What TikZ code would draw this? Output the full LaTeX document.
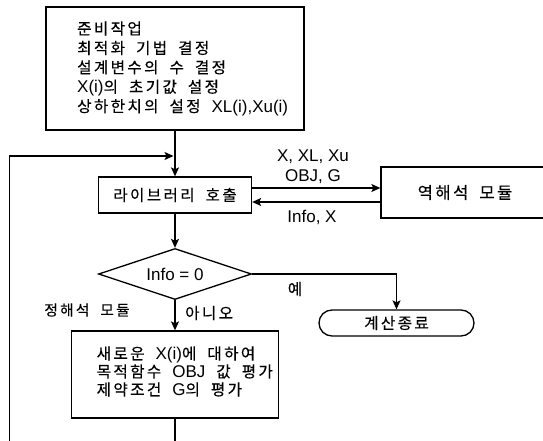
\documentclass[tikz,border=0pt]{standalone}
\usepackage{fontspec}
\setmainfont{Liberation Sans}
\newfontfamily\hgf{Noto Sans CJK KR}[Scale=0.92,LetterSpace=15,FakeBold=0.3]
\newcommand\hg[1]{{\hgf #1}}
\newcommand\hs{\hspace{11pt}}
\usetikzlibrary{arrows.meta,shapes.geometric}
\begin{document}
\begin{tikzpicture}[x=1pt,y=-1pt,
  font=\fontsize{17}{19.4}\selectfont,
  box/.style={draw,line width=1.3pt,rectangle,inner sep=0pt},
  conn/.style={line width=1.3pt},
  arr/.style={conn,-{Stealth[length=9pt,width=8pt,inset=2pt]}},
  lbl/.style={inner sep=0pt}]
\useasboundingbox (0,0) rectangle (543,441);
\clip (0,0) rectangle (543,441);

% top preparation box
\node[box,minimum width=258pt,minimum height=123pt] (prep) at (175,68.5) {};
\node[lbl,anchor=west,align=left] (preptext) at (77,68.5)
  {\hg{준비작업}\\
   \hg{최적화\hs 기법\hs 결정}\\
   \hg{설계변수의\hs 수\hs 결정}\\
   X(i)\hg{의\hs 초기값\hs 설정}\\
   \hg{상하한치의\hs 설정}\hs XL(i),Xu(i)};

% library call
\node[box,minimum width=153pt,minimum height=36pt] (lib) at (175,195) {\hg{라이브러리\hs 호출}};

% inverse analysis module
\node[box,minimum width=168pt,minimum height=51pt,font=\fontsize{18}{20}\selectfont] (inv) at (465,192.5) {\hg{역해석\hs 모듈}};

% decision
\node[draw,line width=1.3pt,diamond,aspect=3,minimum width=153pt,minimum height=51pt,inner sep=0pt] (dia) at (175,274) {Info = 0};

% terminal
\node[box,rounded corners=13pt,minimum width=155pt,minimum height=26pt] (term) at (396.5,323) {\hg{계산종료}};

% evaluation box
\node[box,minimum width=207pt,minimum height=87pt] (bot) at (175,374.5) {};
\node[lbl,anchor=west,align=left,font=\fontsize{17}{18}\selectfont] (bottext) at (96.5,371.5)
  {\hg{새로운}\hs X(i)\hg{에\hs 대하여}\\
   \hg{목적함수}\hs OBJ\hs\hg{값\hs 평가}\\
   \hg{제약조건}\hs G\hg{의\hs 평가}};

% labels
\node[lbl,align=center,font=\fontsize{17}{20}\selectfont] (lblout) at (313,167) {X, XL, Xu\\OBJ, G};
\node[lbl] (lblin) at (312,217) {Info, X};
\node[lbl] (lblyes) at (295,289) {\hg{예}};
\node[lbl,anchor=west] (lblno) at (185,313) {\hg{아니오}};
\node[lbl,font=\fontsize{16}{18}\selectfont] (lblmod) at (87,310) {\hg{정해석\hs 모듈}};

% connectors
\coordinate (join) at (175,156);
\coordinate (loopL) at (9.5,156);
\draw[arr] (prep.south) -- (lib.north);
\draw[arr] ([yshift=7pt]lib.east) -- ([yshift=7pt]lib.east -| inv.west);
\draw[arr] ([yshift=-7pt]lib.east -| inv.west) -- ([yshift=-7pt]lib.east);
\draw[arr] (lib.south) -- (dia.north);
\draw[arr] (dia.east) -| (term.north);
\draw[arr] (dia.south) -- (bot.north);
\draw[arr,shorten >=1.5pt] (bot.south) -- ++(0,60) -| (loopL) -- (join);
\end{tikzpicture}
\end{document}
